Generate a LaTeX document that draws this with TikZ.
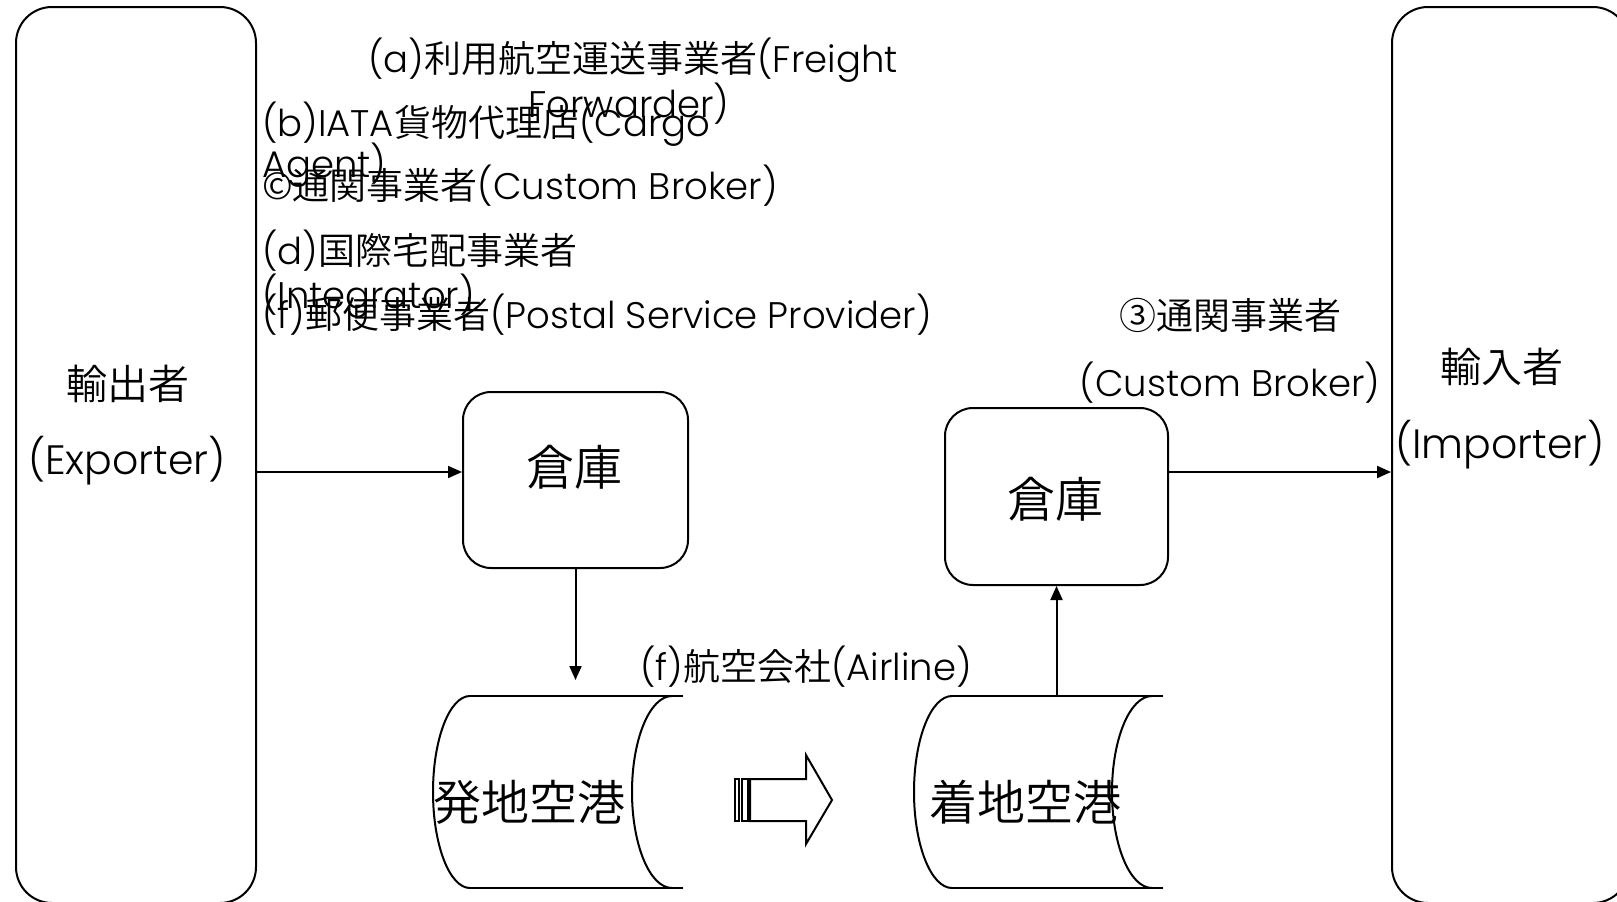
\documentclass[tikz,border=0pt]{standalone}
\usepackage{fontspec}
\setmainfont{Noto Sans CJK JP}[UprightFont={* DemiLight}]
\newfontfamily\ltfont{Poppins}[UprightFont={* Light}]
\newcommand{\lt}[1]{{\ltfont #1}}
\usetikzlibrary{arrows.meta}
\begin{document}
\begin{tikzpicture}[x=1pt,y=-1pt,line width=2pt,
  rbox/.style={draw, rounded corners=#1, inner sep=0pt},
  arr/.style={-{Triangle[length=14pt,width=12pt]}},
  lblS/.style={font=\fontsize{37}{44}\selectfont, inner sep=0pt},
  lblM/.style={font=\fontsize{41}{48}\selectfont, inner sep=0pt},
  lblL/.style={font=\fontsize{48}{56}\selectfont, inner sep=0pt},
  ghost/.style={inner sep=0pt}]
\useasboundingbox (0,0) rectangle (1617,902);
\clip (0,0) rectangle (1617,902);

% side boxes
\node[rbox=36pt, minimum width=240pt, minimum height=896pt] (exp) at (136,455) {};
\node[rbox=36pt, minimum width=237pt, minimum height=896pt] (imp) at (1510.5,455) {};
\node[lblM] (expj) at (128,384) {輸出者};
\node[lblM] (expe) at (127,461) {\lt{(Exporter)}};
\node[lblM] (impj) at (1502,367) {輸入者};
\node[lblM] (impe) at (1500,445) {\lt{(Importer)}};

% warehouses
\node[rbox=28pt, minimum width=225pt, minimum height=176pt] (wh1) at (575.5,480) {};
\node[lblL] (wh1t) at (574,467) {倉庫};
\node[rbox=28pt, minimum width=223pt, minimum height=177pt] (wh2) at (1056.5,496.5) {};
\node[lblL] (wh2t) at (1055,499) {倉庫};

% airports
\node[ghost, minimum width=250pt, minimum height=192pt] (air1) at (558,792) {};
\node[ghost, minimum width=249pt, minimum height=192pt] (air2) at (1038.5,792) {};
\draw (470,696) -- (683,696);
\draw (470,888) -- (683,888);
\draw (470,696) .. controls (449.6,696) and (433,739) .. (433,792) .. controls (433,845) and (449.6,888) .. (470,888);
\draw (672,696) .. controls (649.9,696) and (632,739) .. (632,792) .. controls (632,845) and (649.9,888) .. (672,888);
\draw (952,696) -- (1163,696);
\draw (952,888) -- (1163,888);
\draw (952,696) .. controls (931,696) and (914,739) .. (914,792) .. controls (914,845) and (931,888) .. (952,888);
\draw (1152,696) .. controls (1129.9,696) and (1112,739) .. (1112,792) .. controls (1112,845) and (1129.9,888) .. (1152,888);
\node[lblL] (air1t) at (529,802) {発地空港};
\node[lblL] (air2t) at (1025,802) {着地空港};

% striped block arrow
\draw[fill=white] (734.5,779) rectangle (739,821);
\draw[fill=white] (741.5,779) rectangle (748,821);
\draw[fill=white] (750,779) -- (806,779) -- (806,755) -- (832,800) -- (806,844) -- (806,821) -- (750,821) -- cycle;

% connectors
\coordinate (r1) at (0,472);
\draw[arr] (exp.east |- r1) -- (wh1.west |- r1);
\draw[arr, shorten >=15pt] (wh1.south) -- (wh1.south |- air1.north);
\draw[arr] (wh2.south |- air2.north) -- (wh2.south);
\draw[arr] (wh2.east |- r1) -- (imp.west |- r1);

% labels
\node[lblS] (la1) at (633,60) {\lt{(a)}利用航空運送事業者\lt{(Freight}};
\node[lblS] (la2) at (629,104) {\lt{Forwarder)}};
\node[lblS, anchor=west] (lb1) at (261,124) {\lt{(b)IATA}貨物代理店\lt{(Cargo}};
\node[lblS, anchor=west] (lb2) at (261,165) {\lt{Agent)}};
\node[lblS, anchor=west] (lc) at (261,186) {©通関事業者\lt{(Custom Broker)}};
\node[lblS, anchor=west] (ld1) at (261,251) {\lt{(d)}国際宅配事業者};
\node[lblS, anchor=west] (ld2) at (261,296) {\lt{(Integrator)}};
\node[lblS, anchor=west] (lf) at (261,315) {\lt{(f)}郵便事業者\lt{(Postal Service Provider)}};
\node[lblS] (lg1) at (1230,315) {③通関事業者};
\node[lblS] (lg2) at (1230,383) {\lt{(Custom Broker)}};
\node[lblS] (lair) at (806,667) {\lt{(f)}航空会社\lt{(Airline)}};
\end{tikzpicture}
\end{document}
